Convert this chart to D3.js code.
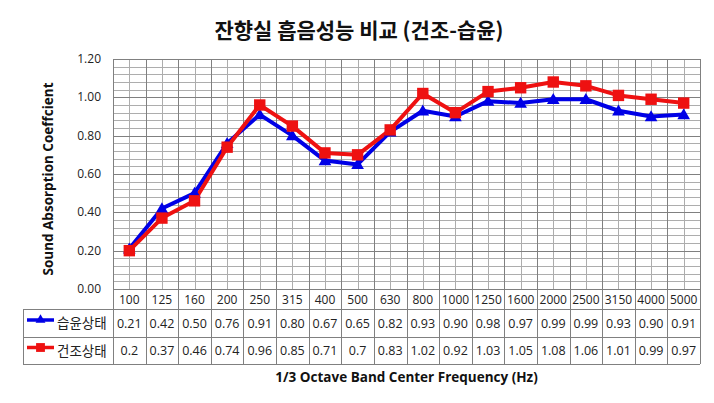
<!DOCTYPE html>
<html>
<head>
<meta charset="utf-8">
<script src="https://cdn.jsdelivr.net/npm/d3@7"></script>
<style>
  body { margin: 0; background: #fff; }
  svg { display: block; font-family: "Open Sans", "Noto Sans CJK KR", sans-serif; }
</style>
</head>
<body>
<svg id="chart" width="714" height="403"></svg>
<script>
const categories = ["100","125","160","200","250","315","400","500","630","800","1000","1250","1600","2000","2500","3150","4000","5000"];
const wetValues = [0.21,0.42,0.50,0.76,0.91,0.80,0.67,0.65,0.82,0.93,0.90,0.98,0.97,0.99,0.99,0.93,0.90,0.91];
const dryValues = [0.2,0.37,0.46,0.74,0.96,0.85,0.71,0.7,0.83,1.02,0.92,1.03,1.05,1.08,1.06,1.01,0.99,0.97];
const wetLabels = ["0.21","0.42","0.50","0.76","0.91","0.80","0.67","0.65","0.82","0.93","0.90","0.98","0.97","0.99","0.99","0.93","0.90","0.91"];
const dryLabels = ["0.2","0.37","0.46","0.74","0.96","0.85","0.71","0.7","0.83","1.02","0.92","1.03","1.05","1.08","1.06","1.01","0.99","0.97"];
const yTicks = [0, 0.2, 0.4, 0.6, 0.8, 1.0, 1.2];

const svg = d3.select("#chart");
const plotLeft = 113, plotRight = 700, plotTop = 59, plotBottom = 289;
const rowH = [289, 309, 337, 364];
const legendLeft = 23;

const x = d3.scaleBand().domain(categories).range([plotLeft, plotRight]);
const y = d3.scaleLinear().domain([0, 1.2]).range([plotBottom, plotTop]);
const cx = c => x(c) + x.bandwidth() / 2;

// minor horizontal grid
const minor = d3.range(0, 1.2001, 0.04);
svg.append("g").selectAll("line").data(minor).join("line")
  .attr("x1", plotLeft).attr("x2", plotRight)
  .attr("y1", d => Math.round(y(d)) + 0.5).attr("y2", d => Math.round(y(d)) + 0.5)
  .attr("stroke", "#adadad").attr("stroke-width", 1);

// vertical grid at category centres
svg.append("g").selectAll("line").data(categories).join("line")
  .attr("x1", d => Math.round(cx(d)) + 0.5)
  .attr("x2", d => Math.round(cx(d)) + 0.5)
  .attr("y1", plotTop).attr("y2", plotBottom)
  .attr("stroke", "#adadad");

// major horizontal grid
svg.append("g").selectAll("line").data(yTicks).join("line")
  .attr("x1", plotLeft).attr("x2", plotRight)
  .attr("y1", d => Math.round(y(d)) + 0.5).attr("y2", d => Math.round(y(d)) + 0.5)
  .attr("stroke", "#808080");

// category boundaries, continued through the data table
const bounds = categories.map(c => x(c)).concat([plotRight]);
svg.append("g").selectAll("line").data(bounds).join("line")
  .attr("x1", d => Math.round(d) + 0.5).attr("x2", d => Math.round(d) + 0.5)
  .attr("y1", plotTop).attr("y2", rowH[3])
  .attr("stroke", "#808080");

// table horizontal lines
svg.append("g").selectAll("line").data(rowH.slice(1)).join("line")
  .attr("x1", legendLeft).attr("x2", plotRight)
  .attr("y1", d => d + 0.5).attr("y2", d => d + 0.5)
  .attr("stroke", "#808080");
svg.append("line")
  .attr("x1", legendLeft + 0.5).attr("x2", legendLeft + 0.5)
  .attr("y1", rowH[1]).attr("y2", rowH[3])
  .attr("stroke", "#808080");

// y tick labels
svg.append("g").selectAll("text").data(yTicks).join("text")
  .attr("x", 101).attr("y", d => y(d) + 4)
  .attr("text-anchor", "end")
  .attr("font-size", 12).attr("fill", "#222")
  .text(d => d.toFixed(2));

// category labels
svg.append("g").selectAll("text").data(categories).join("text")
  .attr("x", d => cx(d)).attr("y", 304)
  .attr("text-anchor", "middle")
  .attr("font-size", 12).attr("fill", "#222")
  .text(d => d);

const series = [
  { name: "습윤상태", values: wetValues, labels: wetLabels, color: "#0000e6", shape: d3.symbolTriangle, size: 70, row: 1 },
  { name: "건조상태", values: dryValues, labels: dryLabels, color: "#ee1111", shape: d3.symbolSquare, size: 130, row: 2 }
];

// table values + legend
series.forEach(s => {
  const cy = (rowH[s.row] + rowH[s.row + 1]) / 2;
  svg.append("g").selectAll("text").data(s.labels).join("text")
    .attr("x", (d, i) => cx(categories[i])).attr("y", cy + 4.5)
    .attr("text-anchor", "middle")
    .attr("font-size", 12.5).attr("fill", "#222")
    .text(d => d);
  svg.append("line")
    .attr("x1", 27).attr("x2", 54).attr("y1", cy - 3).attr("y2", cy - 3)
    .attr("stroke", s.color).attr("stroke-width", 3.5);
  svg.append("path")
    .attr("d", d3.symbol().type(s.shape).size(s.size * 0.6)())
    .attr("transform", `translate(40.5,${cy - 3})`)
    .attr("fill", s.color);
  svg.append("text")
    .attr("x", 57).attr("y", cy + 5)
    .attr("font-size", 13.5).attr("fill", "#222")
    .attr("font-family", "'Noto Sans CJK KR', sans-serif")
    .text(s.name);
});

const line = d3.line()
  .x((d, i) => cx(categories[i]))
  .y(d => y(d));

series.forEach(s => {
  svg.append("path")
    .datum(s.values)
    .attr("d", line)
    .attr("fill", "none")
    .attr("stroke", s.color)
    .attr("stroke-width", 4)
    .attr("stroke-linejoin", "round");
});
series.forEach(s => {
  svg.append("g").selectAll("path").data(s.values).join("path")
    .attr("d", d3.symbol().type(s.shape).size(s.size)())
    .attr("transform", (d, i) => `translate(${cx(categories[i])},${y(d) + (s.shape === d3.symbolTriangle ? 1 : 0)})`)
    .attr("fill", s.color);
});

// titles
svg.append("text")
  .attr("x", 359).attr("y", 38)
  .attr("text-anchor", "middle")
  .attr("font-size", 21).attr("font-weight", "bold")
  .attr("font-family", "'Noto Sans CJK KR', sans-serif")
  .attr("fill", "#111")
  .text("잔향실 흡음성능 비교 (건조-습윤)");

svg.append("text")
  .attr("transform", `translate(53,${(plotTop + plotBottom) / 2 + 5}) rotate(-90)`)
  .attr("text-anchor", "middle")
  .attr("font-size", 13.5).attr("font-weight", "bold")
  .attr("fill", "#111")
  .text("Sound Absorption Coeffcient");

svg.append("text")
  .attr("x", (plotLeft + plotRight) / 2).attr("y", 382)
  .attr("text-anchor", "middle")
  .attr("font-size", 13.5).attr("font-weight", "bold")
  .attr("fill", "#111")
  .text("1/3 Octave Band Center Frequency (Hz)");
</script>
</body>
</html>
